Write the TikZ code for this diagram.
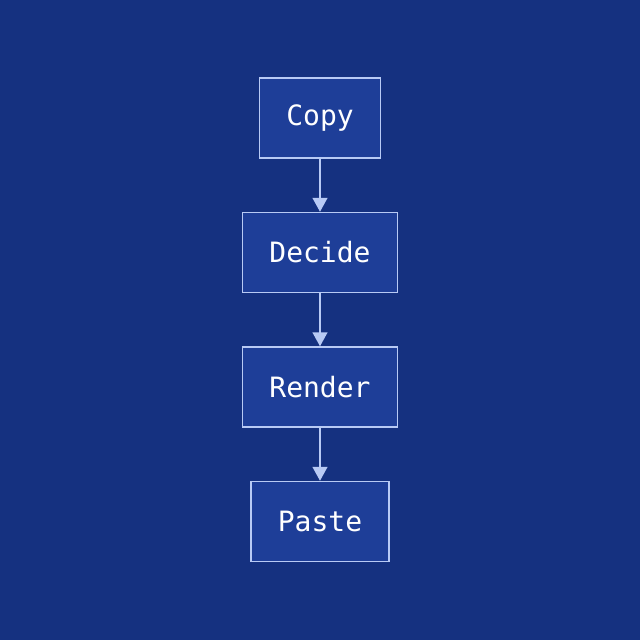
\documentclass[tikz,border=0pt]{standalone}
\usepackage{fontspec}
\setmonofont{DejaVu Sans Mono}
\usetikzlibrary{chains,scopes,positioning,arrows.meta}
\definecolor{bgblue}{RGB}{21,49,128}
\definecolor{boxblue}{RGB}{30,62,152}
\definecolor{edgeblue}{RGB}{184,202,245}
\begin{document}
\begin{tikzpicture}[every on chain/.style=join,
every join/.style={-{Triangle[width=15pt,length=14pt]},draw=edgeblue,line width=1.5pt},
stage/.style={
	% The shape:
	rectangle,
	% The size:
	minimum height=80pt,inner xsep=27pt,
	% The border:
	line width=1.5pt,
	draw=edgeblue,
	% The filling:
	fill=boxblue,
	% Font
	text=white,font=\fontsize{28}{30}\selectfont\ttfamily},
node distance=53pt]

% background, 640x640
\fill[bgblue] (0,0) rectangle (640pt,-640pt);
\useasboundingbox (0,0) rectangle (640pt,-640pt);

%Begin main chain
{ [start chain=flow going below]
\node (copy) [stage,on chain] at (320pt,-118pt) {Copy};
\node (decide) [stage,on chain] {Decide};
\node (render) [stage,on chain] {Render};
\node (paste) [stage,on chain] {Paste};
}
%End chain

\end{tikzpicture}
\end{document}
